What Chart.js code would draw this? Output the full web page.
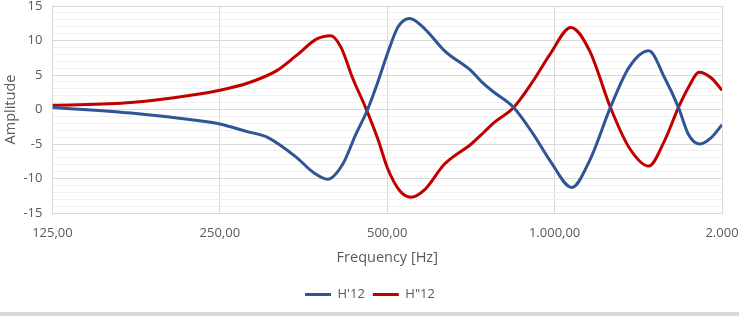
<!DOCTYPE html>
<html>
<head>
<meta charset="utf-8">
<script src="https://cdn.jsdelivr.net/npm/chart.js@4.4.1/dist/chart.umd.min.js"></script>
<style>
    body { margin: 0; background: white; }
    #wrap { width: 739px; height: 312px; position: relative; }
    #strip { width: 739px; height: 4px; background: #dadada; }
</style>
</head>
<body>
<div id="wrap"><canvas id="freqChart"></canvas></div>
<div id="strip"></div>
<script>
// Frequencies (Hz) for each curve
const freqBlue = [125, 173, 228, 250, 280, 304, 343, 368, 391, 416, 439, 461, 482, 500, 523, 549, 584, 634, 708, 746, 778, 844, 916, 981, 1074, 1156, 1260, 1361, 1477, 1577, 1670, 1740, 1820, 1911, 2000];
const blueValues = [0.3, -0.5, -1.6, -2.1, -3.2, -4.0, -6.9, -9.1, -10.1, -7.9, -3.6, 0.0, 4.2, 8.0, 12.0, 13.2, 11.7, 8.5, 5.6, 3.7, 2.5, 0.3, -3.6, -7.4, -11.3, -7.4, 0.3, 6.1, 8.5, 4.6, 0.3, -3.6, -5.0, -4.1, -2.2];

const freqRed = [125, 173, 228, 250, 280, 316, 343, 373, 396, 413, 433, 457, 482, 500, 527, 552, 584, 634, 708, 746, 778, 844, 916, 981, 1070, 1156, 1260, 1361, 1477, 1577, 1670, 1740, 1820, 1911, 2000];
const redValues = [0.6, 1.0, 2.2, 2.8, 3.8, 5.6, 7.8, 10.2, 10.7, 9.0, 4.6, 0.3, -4.5, -8.4, -11.8, -12.7, -11.6, -7.9, -5.0, -3.3, -1.9, 0.3, 4.2, 8.0, 11.9, 8.5, 0.3, -5.5, -8.2, -4.5, 0.3, 3.2, 5.4, 4.6, 2.8];

const seriesNames = ["H'12", 'H"12'];
const xTicks = [125, 250, 500, 1000, 2000];
const xTickLabels = ['125,00', '250,00', '500,00', '1.000,00', '2.000'];
const yTicks = [-15, -10, -5, 0, 5, 10, 15];

const textColor = '#595959';
const fontFamily = "'Open Sans', 'Liberation Sans', sans-serif";

function toPoints(xs, ys) {
    return xs.map((x, i) => ({ x: x, y: ys[i] }));
}

const ctx = document.getElementById('freqChart');

new Chart(ctx, {
    type: 'line',
    data: {
        datasets: [{
            label: seriesNames[0],
            data: toPoints(freqBlue, blueValues),
            borderColor: '#2F5597',
            backgroundColor: '#2F5597',
            borderWidth: 3,
            pointRadius: 0,
            pointStyle: 'line',
            cubicInterpolationMode: 'monotone',
            fill: false
        }, {
            label: seriesNames[1],
            data: toPoints(freqRed, redValues),
            borderColor: '#C00000',
            backgroundColor: '#C00000',
            borderWidth: 3,
            pointRadius: 0,
            pointStyle: 'line',
            cubicInterpolationMode: 'monotone',
            fill: false
        }]
    },
    options: {
        responsive: true,
        maintainAspectRatio: false,
        animation: false,
        layout: { padding: { left: 1, top: 6, right: 0, bottom: 1 } },
        plugins: {
            tooltip: { enabled: false },
            legend: {
                position: 'bottom',
                labels: {
                    color: textColor,
                    font: { family: fontFamily, size: 13 },
                    usePointStyle: true,
                    pointStyleWidth: 26,
                    boxHeight: 13,
                    padding: 8
                }
            }
        },
        scales: {
            x: {
                type: 'logarithmic',
                min: 125,
                max: 2000,
                afterBuildTicks: function(scale) {
                    scale.ticks = xTicks.map(v => ({ value: v }));
                },
                afterFit: function(scale) {
                    // keep room only for half of the "2.000" label
                    scale.paddingRight = 17;
                },
                ticks: {
                    color: textColor,
                    font: { family: fontFamily, size: 13 },
                    padding: 12,
                    maxRotation: 0,
                    autoSkip: false,
                    callback: function(value) {
                        const i = xTicks.indexOf(value);
                        return i >= 0 ? xTickLabels[i] : '';
                    }
                },
                grid: { color: '#d9d9d9', drawTicks: false },
                border: { color: '#d9d9d9' },
                title: {
                    display: true,
                    text: 'Frequency [Hz]',
                    color: textColor,
                    font: { family: fontFamily, size: 14.5 },
                    padding: { top: -3, bottom: 13 }
                }
            },
            y: {
                min: -15,
                max: 15,
                afterFit: function(scale) {
                    scale.paddingTop = 0;
                    scale.paddingBottom = 0;
                    scale.width -= 7;
                },
                ticks: {
                    stepSize: 1,
                    color: textColor,
                    font: { family: fontFamily, size: 13 },
                    padding: 10,
                    autoSkip: false,
                    callback: function(value) {
                        return yTicks.includes(value) ? value : '';
                    }
                },
                grid: {
                    drawTicks: false,
                    color: function(c) {
                        return yTicks.includes(c.tick.value) ? '#d9d9d9' : '#f0f0f0';
                    }
                },
                border: { color: '#d9d9d9' },
                title: {
                    display: true,
                    text: 'Amplitude',
                    color: textColor,
                    font: { family: fontFamily, size: 14.5 },
                    padding: 1
                }
            }
        }
    }
});
</script>
</body>
</html>
